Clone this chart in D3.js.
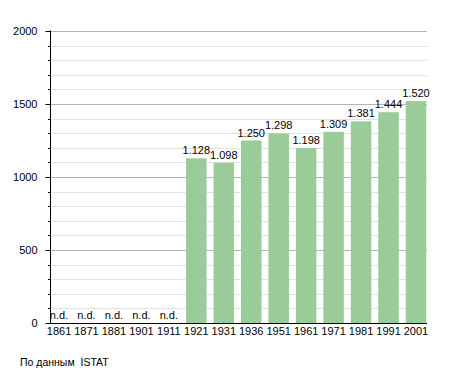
<!DOCTYPE html>
<html>
<head>
<meta charset="utf-8">
<script src="https://cdn.jsdelivr.net/npm/d3@7"></script>
<style>
  body { margin: 0; background: #fff; }
  text { font-family: "Liberation Sans", Arial, sans-serif; }
</style>
</head>
<body>
<svg width="455" height="373"></svg>
<script>
// data
let years = ["1861", "1871", "1881", "1901", "1911", "1921", "1931", "1936", "1951", "1961", "1971", "1981", "1991", "2001"];
let population = [null, null, null, null, null, 1128, 1098, 1250, 1298, 1198, 1309, 1381, 1444, 1520];
let yTicks = [0, 500, 1000, 1500, 2000];

let svg = d3.select("svg");
let fmt = d3.formatLocale({ decimal: ",", thousands: ".", grouping: [3] }).format(",");

let x = d3.scaleBand().domain(years).range([45.3, 429.7]).paddingInner(0.254).paddingOuter(0.127);
let y = d3.scaleLinear().domain([0, 2000]).range([323, 31]);

// gridlines
let minor = d3.range(100, 2001, 100).filter(d => d % 500 != 0);
svg.append("g").selectAll("line").data(minor).enter().append("line")
  .attr("x1", 50).attr("x2", 427)
  .attr("y1", d => Math.round(y(d)) + 0.5).attr("y2", d => Math.round(y(d)) + 0.5)
  .attr("stroke", "#e2e2e2");
svg.append("g").selectAll("line").data(yTicks.filter(d => d > 0)).enter().append("line")
  .attr("x1", 50).attr("x2", 427)
  .attr("y1", d => Math.round(y(d)) + 0.5).attr("y2", d => Math.round(y(d)) + 0.5)
  .attr("stroke", "#b4b4b4");

// bars
let data = years.map((d, i) => ({ year: d, value: population[i] }));
svg.append("g").selectAll("rect").data(data.filter(d => d.value != null)).enter().append("rect")
  .attr("x", d => x(d.year))
  .attr("y", d => y(d.value))
  .attr("width", x.bandwidth())
  .attr("height", d => y(0) - y(d.value))
  .attr("fill", "#99cc99");

// value labels
svg.append("g").selectAll("text").data(data).enter().append("text")
  .attr("x", d => x(d.year) + x.bandwidth() / 2)
  .attr("y", d => d.value == null ? 319 : y(d.value) - 4)
  .attr("text-anchor", "middle")
  .attr("font-size", 11)
  .attr("fill", "#000")
  .text(d => d.value == null ? "n.d." : fmt(d.value));

// y axis
let yAxis = svg.append("g").attr("transform", "translate(50.5,0)")
  .call(d3.axisLeft(y).tickValues(yTicks).tickSize(5).tickPadding(8).tickFormat(d3.format("d")));
yAxis.select(".domain").attr("d", "M0," + (y(2000) - 0.5) + "V" + y(0));
yAxis.selectAll("text").attr("font-size", 11).attr("font-family", "Liberation Sans, Arial, sans-serif");
svg.append("g").attr("transform", "translate(50.5,0)")
  .selectAll("line").data(minor).enter().append("line")
  .attr("x1", -2.5).attr("x2", 0)
  .attr("y1", d => Math.round(y(d)) + 0.5).attr("y2", d => Math.round(y(d)) + 0.5)
  .attr("stroke", "#000");

// x axis
let xAxis = svg.append("g").attr("transform", "translate(0,323.5)")
  .call(d3.axisBottom(x).tickSize(0).tickPadding(4));
xAxis.select(".domain").attr("d", "M50,0H427");
xAxis.selectAll("text").attr("font-size", 11).attr("font-family", "Liberation Sans, Arial, sans-serif");

// source
svg.append("text")
  .attr("x", 20).attr("y", 366)
  .attr("font-size", 10.5)
  .text("По данным  ISTAT")
  .style("white-space", "pre");
</script>
</body>
</html>
